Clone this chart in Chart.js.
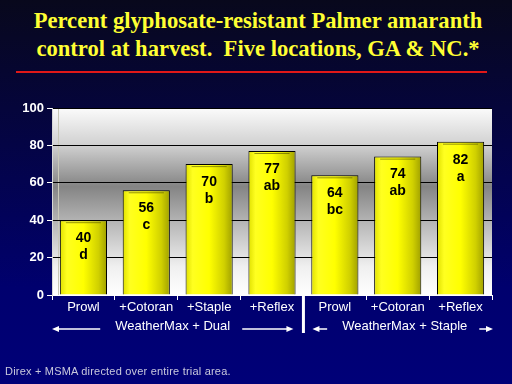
<!DOCTYPE html>
<html>
<head>
<meta charset="utf-8">
<script src="https://cdn.jsdelivr.net/npm/chart.js@4"></script>
<style>
  body { margin: 0; width: 512px; height: 384px; overflow: hidden; position: relative;
         background: linear-gradient(#08081c, #00006e 75%, #000078); font-family: Arial, "Liberation Sans", sans-serif; }
  #title { position: absolute; left: 0; top: 7px; width: 516px; text-align: center; color: #ffff33;
           font: bold 22.6px "Liberation Serif", "Times New Roman", serif; line-height: 28px; }
  #rule { position: absolute; left: 16px; top: 71px; width: 471px; height: 2px; background: #e01818; }
  #foot { position: absolute; left: 5px; top: 365px; color: #c8c8dc; font-size: 11px; letter-spacing: 0.2px; }
  #wrap { position: absolute; left: 0; top: 0; width: 512px; height: 384px; }
</style>
</head>
<body>
<div id="title">Percent glyphosate-resistant Palmer amaranth<br>control at harvest.&nbsp; Five locations, GA &amp; NC.*</div>
<div id="rule"></div>
<div id="wrap"><canvas id="chart" width="512" height="384"></canvas></div>
<div id="foot">Direx + MSMA directed over entire trial area.</div>
<script>
const treatments = ["Prowl", "+Cotoran", "+Staple", "+Reflex", "Prowl", "+Cotoran", "+Reflex"];
const control = [40, 56, 70, 77, 64, 74, 82];
const letters = ["d", "c", "b", "ab", "bc", "ab", "a"];
const groups = ["WeatherMax + Dual", "WeatherMax + Staple"];
const groupSizes = [4, 3];

// grey "wall" behind the bars
const plotBg = {
    id: "plotBg",
    beforeDraw(chart) {
        const { ctx, chartArea: a } = chart;
        const g = ctx.createLinearGradient(0, a.top, 0, a.bottom);
        g.addColorStop(0, "#fbfbfb");
        g.addColorStop(0.2, "#d0d0d0");
        g.addColorStop(0.42, "#848484");
        g.addColorStop(0.62, "#b8b8b8");
        g.addColorStop(0.85, "#f0f0f0");
        g.addColorStop(1, "#ffffff");
        ctx.save();
        ctx.fillStyle = g;
        ctx.fillRect(a.left, a.top, a.right - a.left, a.bottom - a.top);
        ctx.strokeStyle = "#c8c8b8";
        ctx.lineWidth = 1;
        ctx.beginPath();
        ctx.moveTo(a.left + 6.5, a.top);
        ctx.lineTo(a.left + 6.5, a.bottom);
        ctx.stroke();
        ctx.restore();
    }
};

// value + letter inside each bar
const barLabels = {
    id: "barLabels",
    afterDatasetsDraw(chart) {
        const ctx = chart.ctx;
        const meta = chart.getDatasetMeta(0);
        ctx.save();
        ctx.fillStyle = "#000";
        ctx.font = "bold 14px Arial";
        ctx.textAlign = "center";
        ctx.textBaseline = "middle";
        meta.data.forEach((bar, i) => {
            // thin rim just under the top edge
            ctx.strokeStyle = "rgba(80,80,0,0.6)";
            ctx.lineWidth = 1;
            ctx.beginPath();
            ctx.moveTo(bar.x - bar.width / 2 + 6, bar.y + 2.5);
            ctx.lineTo(bar.x + bar.width / 2 - 6, bar.y + 2.5);
            ctx.stroke();
            ctx.fillText(String(control[i]), bar.x, bar.y + 18);
            ctx.fillText(letters[i], bar.x, bar.y + 35);
        });
        ctx.restore();
    }
};

function arrow(ctx, x1, x2, y) {
    const dir = x2 > x1 ? 1 : -1;
    ctx.beginPath();
    ctx.moveTo(x1, y);
    ctx.lineTo(x2 - dir * 5, y);
    ctx.stroke();
    ctx.beginPath();
    ctx.moveTo(x2, y);
    ctx.lineTo(x2 - dir * 7, y - 3);
    ctx.lineTo(x2 - dir * 7, y + 3);
    ctx.closePath();
    ctx.fill();
}

// group captions under the axis
const groupLabels = {
    id: "groupLabels",
    afterDraw(chart) {
        const { ctx, chartArea: a } = chart;
        const x = chart.scales.x;
        const sep = (x.getPixelForValue(groupSizes[0] - 1) + x.getPixelForValue(groupSizes[0])) / 2;
        ctx.save();
        ctx.strokeStyle = "#fff";
        ctx.fillStyle = "#fff";
        ctx.lineWidth = 3;
        ctx.beginPath();
        ctx.moveTo(sep, a.bottom + 1);
        ctx.lineTo(sep, a.bottom + 38);
        ctx.stroke();

        const spans = [[a.left, sep - 10], [sep + 9, a.right + 1]];
        ctx.font = "13px Arial";
        ctx.textAlign = "center";
        ctx.textBaseline = "middle";
        ctx.lineWidth = 1.5;
        groups.forEach((name, i) => {
            const [l, r] = spans[i];
            const cx = (l + r) / 2 + (i ? 2 : 0);
            const y = a.bottom + 31;
            ctx.fillText(name, cx, y);
            const hw = ctx.measureText(name).width / 2;
            arrow(ctx, cx - hw - 15, l, y + 3);
            arrow(ctx, cx + hw + 12, r, y + 3);
        });
        ctx.restore();
    }
};

new Chart(document.getElementById("chart"), {
    type: "bar",
    data: {
        labels: treatments,
        datasets: [{
            data: control,
            backgroundColor: (c) => {
                const chart = c.chart;
                if (!chart.chartArea) return "#ffff00";
                const cx = chart.scales.x.getPixelForValue(c.dataIndex);
                const half = chart.scales.x.width / treatments.length * 0.75 / 2;
                const g = chart.ctx.createLinearGradient(cx - half, 0, cx + half, 0);
                g.addColorStop(0, "#e0e000");
                g.addColorStop(0.15, "#ffff20");
                g.addColorStop(0.5, "#ffff00");
                g.addColorStop(0.82, "#d0d000");
                g.addColorStop(1, "#a0a000");
                return g;
            },
            borderColor: "#000",
            borderWidth: 1,
            barPercentage: 0.75,
            categoryPercentage: 1
        }]
    },
    options: {
        responsive: false,
        animation: false,
        layout: { padding: { top: 108, right: 20, bottom: 69, left: 0 } },
        plugins: { legend: { display: false }, tooltip: { enabled: false } },
        scales: {
            x: {
                grid: { offset: true, drawOnChartArea: false, color: "#fff", tickLength: 5 },
                border: { color: "#fff" },
                ticks: { color: "#fff", font: { family: "Arial", size: 13 }, padding: 0, maxRotation: 0, autoSkip: false },
                afterFit: (s) => { s.height = 20; }
            },
            y: {
                min: 0,
                max: 100,
                ticks: { stepSize: 20, color: "#fff", font: { family: "Arial", size: 13, weight: "bold" }, padding: 3 },
                grid: { color: "#000", tickColor: "#fff", tickLength: 5 },
                border: { color: "#d8d8d8" },
                afterFit: (s) => { s.width = 52; }
            }
        }
    },
    plugins: [plotBg, barLabels, groupLabels]
});
</script>
</body>
</html>
